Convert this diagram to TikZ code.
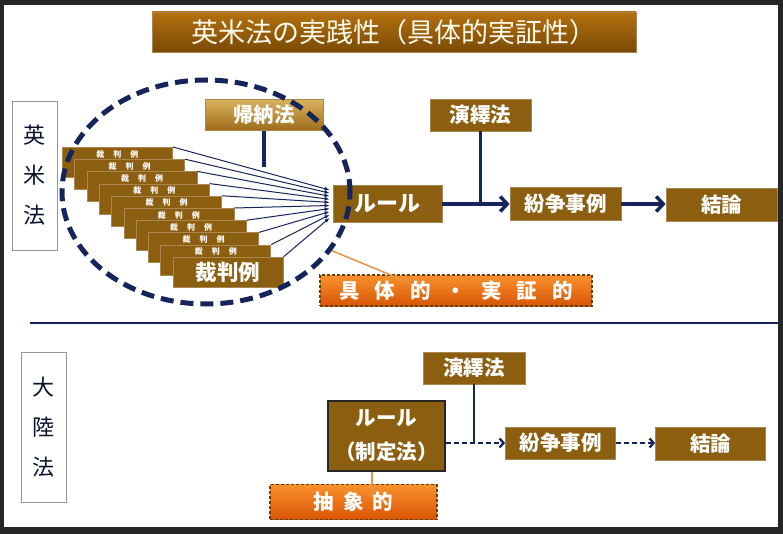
\documentclass[tikz,border=0pt]{standalone}
\usepackage{fontspec}
\setmainfont{Noto Sans CJK JP}
\usetikzlibrary{arrows.meta,calc,shapes.geometric}
\definecolor{boxbrown}{RGB}{139,94,16}
\definecolor{boxedge}{RGB}{170,135,80}
\definecolor{navy}{RGB}{22,36,92}
\definecolor{framegray}{RGB}{38,38,38}
\definecolor{lineorange}{RGB}{228,150,70}
\definecolor{labelgray}{RGB}{150,150,150}
\newcommand\boxfont{\fontsize{20.5}{24}\selectfont\bfseries}
\newcommand\sidefont{\fontsize{22}{40}\selectfont}
\tikzset{
	wh/.style 2 args={minimum width=#1, minimum height=#2},
	brownbox/.style={fill=boxbrown, draw=boxedge, line width=0.8pt, text=white, font=\boxfont, inner sep=0pt},
	orangebox/.style={top color={rgb,255:red,250;green,145;blue,45}, bottom color={rgb,255:red,215;green,85;blue,5}, draw=boxbrown!70!black, line width=1.2pt, dash pattern=on 3pt off 2pt, text=white, font=\boxfont, inner sep=0pt},
	sidebox/.style={fill=white, draw=labelgray, line width=0.8pt, text=navy!50!black, font=\sidefont, align=center, inner sep=0pt},
	casebox/.style={brownbox, wh={110}{30}, anchor=north west},
	casesmall/.style={anchor=north, yshift=-2pt, font=\fontsize{8}{8}\selectfont\bfseries, text=white, inner sep=1pt},
	fanline/.style={navy, line width=1pt, -{Latex[length=5pt,width=4pt]}},
	bigarrow/.style={navy, line width=3.5pt, -{Straight Barb[length=7pt,width=15pt]}},
	dasharrow/.style={navy, line width=2.3pt, dash pattern=on 5pt off 3pt, -{Straight Barb[length=4pt,width=9pt]}},
}
\begin{document}
\begin{tikzpicture}[x=1pt, y=-1pt]
	%%%%% FRAME %%%%%
	\useasboundingbox (0,0) rectangle (783,534);
	\fill[framegray] (0,0) rectangle (783,534);
	\fill[white] (4,5) rectangle (778,527);
	
	%%%%% TITLE %%%%%
	\node[top color={rgb,255:red,180;green,112;blue,15}, bottom color={rgb,255:red,122;green,74;blue,5}, draw=boxedge, wh={484}{40}, inner sep=0pt, text={rgb,255:red,255;green,250;blue,235}, font=\fontsize{27}{27}\selectfont] (title) at (394,32) {英米法の実践性（具体的実証性）};
	
	%%%%% ANGLO-AMERICAN LAW %%%%%
	\node[sidebox, wh={45}{149}] (side1) at (34.5,175.5) {英\\米\\法};
	
	\foreach \i in {0,...,8}
		\node[casebox, label={[casesmall]north:裁\hspace{9pt}判\hspace{9pt}例}] (case\i) at ({62+12.3*\i},{147+12.2*\i}) {};
	\node[casebox, font=\fontsize{21.5}{21.5}\selectfont\bfseries] (case9) at (172.7,256.8) {裁判例};
	
	\node[brownbox, wh={109}{37}, font=\fontsize{22}{22}\selectfont\bfseries] (rule1) at (387.5,204) {ルール};
	
	\foreach \i in {0,...,9}
		\draw[fanline] (case\i.north east) -- ($(rule1.west)+(-3,{-14+3.1*\i})$);
	
	\node[brownbox, top color={rgb,255:red,218;green,178;blue,92}, bottom color={rgb,255:red,158;green,108;blue,28}, wh={118}{31}] (induce) at (264,115) {帰納法};
	\coordinate (induceend) at (264,167);
	\draw[navy, line width=3.5pt] (induce.south) -- (induceend);
	
	\node[brownbox, wh={101}{32}] (deduce1) at (480.5,115) {演繹法};
	\node[brownbox, wh={111}{33}] (dispute1) at (565.5,204) {紛争事例};
	\node[brownbox, wh={111}{33}] (concl1) at (721.5,205) {結論};
	
	\draw[bigarrow] (rule1.east) -- (dispute1.west);
	\draw[navy, line width=3.5pt] (deduce1.south) -- (deduce1.south |- rule1.east);
	\draw[bigarrow] (dispute1.east) -- (concl1.west |- dispute1.east);
	
	% dashed circle round the cases
	\node[draw=navy, ellipse, line width=5pt, dash pattern=on 13pt off 7pt, wh={288}{224}, inner sep=0pt] (cases) at (206,192) {};
	
	\node[orangebox, wh={272}{31}] (concrete) at (456,290.5) {具\hspace{15pt}体\hspace{15pt}的\hspace{15pt}・\hspace{15pt}実\hspace{15pt}証\hspace{15pt}的};
	\coordinate (concretetip) at (410,283);
	\draw[lineorange, line width=1.5pt] (cases.-25) -- (concretetip);
	
	%%%%% SEPARATOR %%%%%
	\draw[navy, line width=2.5pt] (30,323) -- (778,323);
	
	%%%%% CONTINENTAL LAW %%%%%
	\node[sidebox, wh={45}{150}] (side2) at (43.5,427) {大\\陸\\法};
	
	\node[brownbox, wh={102}{32}] (deduce2) at (474,368) {演繹法};
	\node[brownbox, draw=black!85, line width=2.5pt, wh={117}{70}, align=center] (rule2) at (386.5,436) {ルール\\[10pt]（制定法）};
	\node[brownbox, wh={110}{32}] (dispute2) at (560.5,443) {紛争事例};
	\node[brownbox, wh={110}{33}] (concl2) at (710.5,443.5) {結論};
	
	\draw[dasharrow] (rule2.east |- dispute2.west) -- (dispute2.west);
	\draw[navy, line width=2pt] (deduce2.south) -- (deduce2.south |- dispute2.west);
	\draw[dasharrow] (dispute2.east) -- (concl2.west |- dispute2.east);
	
	\node[orangebox, wh={167}{35}] (abstract) at (353.5,502) {抽\hspace{9pt}象\hspace{9pt}的};
	\coordinate (abstracttip) at (372,497);
	\draw[lineorange, line width=1.5pt] (abstracttip |- rule2.south) -- (abstracttip);
\end{tikzpicture}
\end{document}
